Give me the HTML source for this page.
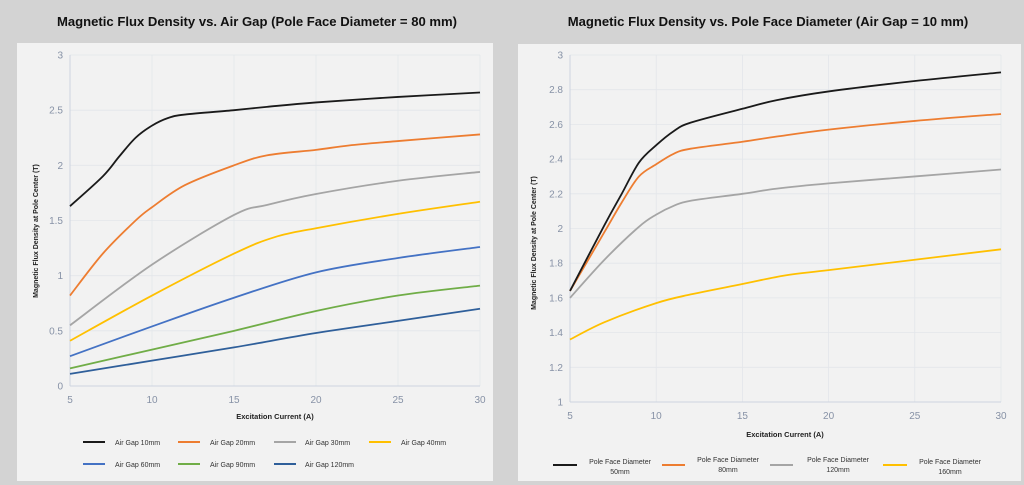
<!DOCTYPE html>
<html><head><meta charset="utf-8"><style>
html,body{margin:0;padding:0;background:#d3d3d3;}
body{width:1024px;height:485px;overflow:hidden;position:relative;font-family:"Liberation Sans",Arial,sans-serif;}
svg{position:absolute;left:0;top:0;}
</style></head><body>
<svg id="s" width="1024" height="485" xmlns="http://www.w3.org/2000/svg" font-family="Liberation Sans, Arial, sans-serif">
<rect x="0" y="0" width="1024" height="485" fill="#d3d3d3"/>
<rect x="17" y="43" width="476" height="438" fill="#f2f2f2"/>
<rect x="518" y="44" width="503" height="437" fill="#f2f2f2"/>
<text x="257" y="26" text-anchor="middle" font-size="13.1" font-weight="bold" fill="#111">Magnetic Flux Density vs. Air Gap (Pole Face Diameter = 80 mm)</text>
<text x="768" y="26" text-anchor="middle" font-size="13.1" font-weight="bold" fill="#111">Magnetic Flux Density vs. Pole Face Diameter (Air Gap = 10 mm)</text>
<g id="g"></g>
<text x="275" y="419" text-anchor="middle" font-size="7.5" font-weight="bold" fill="#222">Excitation Current (A)</text>
<text x="785" y="437" text-anchor="middle" font-size="7.5" font-weight="bold" fill="#222">Excitation Current (A)</text>
<text transform="translate(38,231) rotate(-90)" text-anchor="middle" font-size="7" font-weight="bold" fill="#222">Magnetic Flux Density at Pole Center (T)</text>
<text transform="translate(536,243) rotate(-90)" text-anchor="middle" font-size="7" font-weight="bold" fill="#222">Magnetic Flux Density at Pole Center (T)</text>
<g font-size="7" fill="#333">
<line x1="83" y1="442" x2="105" y2="442" stroke="#1a1a1a" stroke-width="2"/><text x="115" y="445">Air Gap 10mm</text>
<line x1="178" y1="442" x2="200" y2="442" stroke="#ed7d31" stroke-width="2"/><text x="210" y="445">Air Gap 20mm</text>
<line x1="274" y1="442" x2="296" y2="442" stroke="#a5a5a5" stroke-width="2"/><text x="305" y="445">Air Gap 30mm</text>
<line x1="369" y1="442" x2="391" y2="442" stroke="#ffc000" stroke-width="2"/><text x="401" y="445">Air Gap 40mm</text>
<line x1="83" y1="464" x2="105" y2="464" stroke="#4472c4" stroke-width="2"/><text x="115" y="467">Air Gap 60mm</text>
<line x1="178" y1="464" x2="200" y2="464" stroke="#70ad47" stroke-width="2"/><text x="210" y="467">Air Gap 90mm</text>
<line x1="274" y1="464" x2="296" y2="464" stroke="#2f5f9a" stroke-width="2"/><text x="305" y="467">Air Gap 120mm</text>
<line x1="553" y1="465" x2="577" y2="465" stroke="#1a1a1a" stroke-width="2"/><text x="620" y="464" text-anchor="middle">Pole Face Diameter</text><text x="620" y="474" text-anchor="middle">50mm</text>
<line x1="662" y1="465" x2="685" y2="465" stroke="#ed7d31" stroke-width="2"/><text x="728" y="462" text-anchor="middle">Pole Face Diameter</text><text x="728" y="472" text-anchor="middle">80mm</text>
<line x1="770" y1="465" x2="793" y2="465" stroke="#a5a5a5" stroke-width="2"/><text x="838" y="462" text-anchor="middle">Pole Face Diameter</text><text x="838" y="472" text-anchor="middle">120mm</text>
<line x1="883" y1="465" x2="907" y2="465" stroke="#ffc000" stroke-width="2"/><text x="950" y="464" text-anchor="middle">Pole Face Diameter</text><text x="950" y="474" text-anchor="middle">160mm</text>
</g>
</svg>
<script>
var NS="http://www.w3.org/2000/svg",g=document.getElementById('g');
function el(t,a,txt){var e=document.createElementNS(NS,t);for(var k in a)e.setAttribute(k,a[k]);if(txt!=null)e.textContent=txt;g.appendChild(e);return e;}
function chart(c){
 var X=function(v){return c.x0+(v-5)/25*(c.x1-c.x0)},Y=function(v){return c.yb-(v-c.ymin)/(c.ymax-c.ymin)*(c.yb-c.yt)};
 for(var v=c.ymin;v<=c.ymax+1e-9;v+=c.ystep){var y=Y(v);el('line',{x1:c.x0,x2:c.x1,y1:y,y2:y,stroke:'#e3e6ea','stroke-width':0.8});
  el('text',{x:c.x0-7,y:y+3.5,'text-anchor':'end','font-size':10,fill:'#8792a6'},(+v.toFixed(1)).toString());}
 for(var v=5;v<=30;v+=5){var x=X(v);el('line',{x1:x,x2:x,y1:c.yt,y2:c.yb,stroke:'#e3e6ea','stroke-width':0.8});
  el('text',{x:x,y:c.yb+17,'text-anchor':'middle','font-size':10,fill:'#8792a6'},v);}
 el('line',{x1:c.x0,x2:c.x0,y1:c.yt,y2:c.yb,stroke:'#cdd4e0','stroke-width':1});
 el('line',{x1:c.x0,x2:c.x1,y1:c.yb,y2:c.yb,stroke:'#cdd4e0','stroke-width':1});
 c.series.forEach(function(s){var p=s.d.map(function(q){return [X(q[0]),Y(q[1])]});
  var d='M'+p[0][0]+','+p[0][1];
  for(var i=0;i<p.length-1;i++){var a=p[i-1]||p[i],b=p[i],e=p[i+1],f=p[i+2]||e;
   d+=' C'+(b[0]+(e[0]-a[0])/6)+','+(b[1]+(e[1]-a[1])/6)+' '+(e[0]-(f[0]-b[0])/6)+','+(e[1]-(f[1]-b[1])/6)+' '+e[0]+','+e[1];}
  el('path',{d:d,fill:'none',stroke:s.c,'stroke-width':1.8});});
}
chart({x0:70,x1:480,yt:55,yb:386,ymin:0,ymax:3,ystep:0.5,series:[
{c:'#2f5f9a',d:[[5,.11],[10,.23],[15,.35],[20,.48],[25,.59],[30,.7]]},
{c:'#70ad47',d:[[5,.16],[10,.33],[15,.5],[20,.68],[25,.82],[30,.91]]},
{c:'#4472c4',d:[[5,.27],[10,.54],[15,.8],[20,1.03],[25,1.16],[30,1.26]]},
{c:'#ffc000',d:[[5,.41],[10,.82],[15,1.2],[17.5,1.35],[20,1.43],[25,1.56],[30,1.67]]},
{c:'#a5a5a5',d:[[5,.55],[10,1.1],[15,1.55],[17,1.64],[20,1.74],[25,1.86],[30,1.94]]},
{c:'#ed7d31',d:[[5,.82],[7,1.2],[9,1.5],[10,1.62],[12,1.82],[15,2.0],[17,2.09],[20,2.14],[22,2.18],[25,2.22],[30,2.28]]},
{c:'#1a1a1a',d:[[5,1.63],[7,1.9],[8,2.08],[9,2.25],[10,2.36],[11,2.43],[12,2.46],[15,2.5],[17,2.53],[20,2.57],[25,2.62],[30,2.66]]}
]});
chart({x0:570,x1:1001,yt:55,yb:402,ymin:1,ymax:3,ystep:0.2,series:[
{c:'#ffc000',d:[[5,1.36],[7,1.46],[10,1.57],[12,1.62],[15,1.68],[17.5,1.73],[20,1.76],[25,1.82],[30,1.88]]},
{c:'#a5a5a5',d:[[5,1.6],[7,1.82],[9,2.01],[10,2.08],[11,2.13],[12,2.16],[15,2.2],[17,2.23],[20,2.26],[25,2.3],[30,2.34]]},
{c:'#ed7d31',d:[[5,1.64],[7,1.98],[8,2.15],[9,2.3],[10,2.37],[11,2.43],[12,2.46],[15,2.5],[17,2.53],[20,2.57],[25,2.62],[30,2.66]]},
{c:'#1a1a1a',d:[[5,1.64],[7,2.02],[8,2.2],[9,2.38],[10,2.48],[11,2.56],[12,2.61],[15,2.69],[17,2.74],[20,2.79],[25,2.85],[30,2.9]]}
]});
</script>
</body></html>
